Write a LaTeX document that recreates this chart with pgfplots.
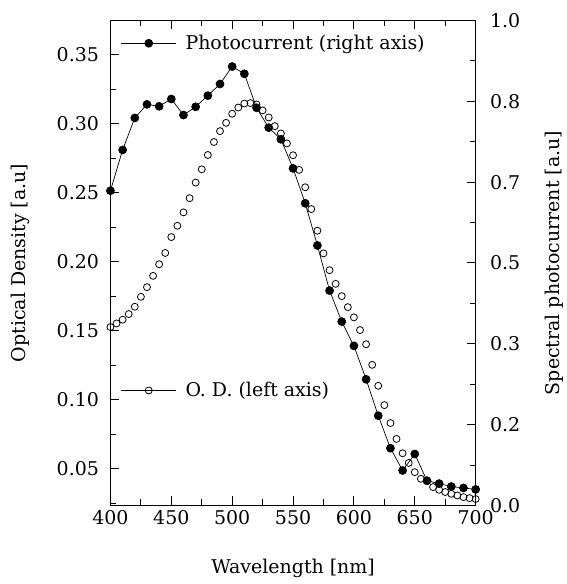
\documentclass[border=0pt]{standalone}
\usepackage{fontspec}
\setmainfont{DejaVu Serif}
\usepackage{pgfplots}
\pgfplotsset{compat=1.18}
\begin{document}
\begin{tikzpicture}
\pgfplotsset{
  every axis/.append style={
    font=\fontsize{19}{23}\selectfont,
    /pgf/number format/assume math mode=true,
    axis line style={line width=1.1pt},
    every tick/.style={line width=1pt, black},
    major tick length=9pt, minor tick length=6pt,
    tick align=inside,
    width=366pt, height=486pt, scale only axis,
    xmin=400, xmax=700,
  },
}
\begin{axis}[
  name=left,
  ymin=0.0233, ymax=0.3748,
  xtick={400,450,500,550,600,650,700},
  minor xtick={425,475,525,575,625,675},
  ytick={0.05,0.10,0.15,0.20,0.25,0.30,0.35},
  minor ytick={0.025,0.075,0.125,0.175,0.225,0.275,0.325,0.375},
  ytick pos=left,
  xtick pos=both,
  yticklabel style={/pgf/number format/fixed, /pgf/number format/precision=2, /pgf/number format/fixed zerofill, xshift=-8pt},
  xticklabel style={yshift=-1pt},
  xlabel={Wavelength [nm]},
  xlabel style={yshift=-28pt},
  ylabel={Optical Density [a.u]},
  ylabel style={yshift=20pt},
  legend style={at={(0.02,0.237)}, anchor=west, draw=none, fill=none,
    /tikz/every odd column/.append style={column sep=7pt}},
  legend cell align=left,
]
\addplot[only marks, mark=o, mark size=3.5pt, mark options={line width=0.8pt},
  legend image code/.code={
    \draw[black, line width=0.7pt] (0pt,0pt) -- (55pt,0pt);
    \draw[black, only marks, mark=o, mark size=3.5pt, mark options={fill=white, line width=0.8pt}] plot coordinates {(27.5pt,0pt)};
  }] coordinates {
(400,0.1526) (405,0.1552) (410,0.1579) (415,0.1620) (420,0.1673)
(425,0.1745) (430,0.1815) (435,0.1897) (440,0.1981) (445,0.2063)
(450,0.2178) (455,0.2260) (460,0.2357) (465,0.2460) (470,0.2573)
(475,0.2669) (480,0.2773) (485,0.2867) (490,0.2946) (495,0.3006)
(500,0.3072) (505,0.3117) (510,0.3146) (515,0.3149) (520,0.3139)
(525,0.3096) (530,0.3045) (535,0.2982) (540,0.2929) (545,0.2857)
(550,0.2771) (555,0.2665) (560,0.2539) (565,0.2381) (570,0.2224)
(575,0.2060) (580,0.1938) (585,0.1839) (590,0.1750) (595,0.1670)
(600,0.1596) (605,0.1504) (610,0.1401) (615,0.1252) (620,0.1100)
(625,0.0960) (630,0.0830) (635,0.0715) (640,0.0611) (645,0.0541)
(650,0.0474) (655,0.0426) (660,0.0409) (665,0.0366) (670,0.0346)
(675,0.0330) (680,0.0317) (685,0.0305) (690,0.0293) (695,0.0286)
(700,0.0279)
};
\addlegendentry{O. D. (left axis)}
\end{axis}
\begin{axis}[
  ymin=0, ymax=1,
  axis y line*=right,
  hide x axis,
  ytick={0,0.166667,0.333333,0.5,0.666667,0.833333,1},
  yticklabels={0.0,0.2,0.3,0.5,0.7,0.8,1.0},
  yticklabel style={xshift=11pt},
  minor ytick={0.083333,0.25,0.416667,0.583333,0.75,0.916667},
  ylabel={Spectral photocurrent [a.u]},
  ylabel style={yshift=-18pt},
  legend style={at={(0.02,0.953)}, anchor=west, draw=none, fill=none,
    /tikz/every odd column/.append style={column sep=7pt}},
  legend cell align=left,
]
\addplot[black, line width=0.7pt, mark=*, mark size=4pt,
  legend image code/.code={
    \draw[black, line width=0.7pt] (0pt,0pt) -- (55pt,0pt);
    \draw[black, only marks, mark=*, mark size=4pt] plot coordinates {(27.5pt,0pt)};
  }] coordinates {
(400,0.649) (410,0.733) (420,0.799) (430,0.827) (440,0.823)
(450,0.838) (460,0.805) (470,0.822) (480,0.845) (490,0.869)
(500,0.905) (510,0.890) (520,0.820) (530,0.779) (540,0.755)
(550,0.695) (560,0.623) (570,0.536) (580,0.443) (590,0.379)
(600,0.329) (610,0.260) (620,0.185) (630,0.118) (640,0.072)
(650,0.106) (660,0.051) (670,0.045) (680,0.039) (690,0.036)
(700,0.033)
};
\addlegendentry{Photocurrent (right axis)}
\end{axis}
\path (current bounding box.north west) ++(-8pt,10pt);
\path (current bounding box.south east) ++(0pt,-3pt);
\end{tikzpicture}
\end{document}
